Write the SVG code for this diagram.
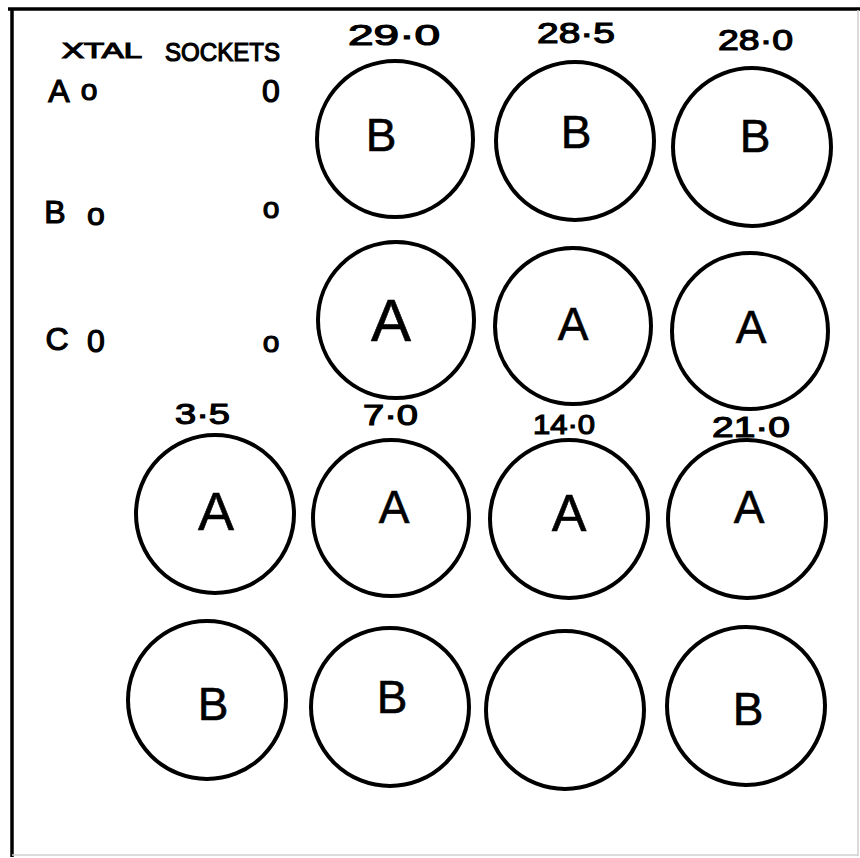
<svg xmlns="http://www.w3.org/2000/svg" width="860" height="858" viewBox="0 0 860 858">
<style>
.frame{stroke:#000;stroke-width:3.5;fill:none}
.faint{stroke:#cfcfcf;stroke-width:1.5;fill:none}
.sock{fill:#fff;stroke:#000;stroke-width:4}
.lt{font-family:"Liberation Sans",Arial,sans-serif;fill:#000;stroke:#000;stroke-width:1.2}
.c{text-anchor:middle}
.s{text-anchor:start}
.big{font-size:46px;stroke-width:0.6}
.num{font-size:30px}
.side{font-size:32px}
</style>
<rect width="860" height="858" fill="#fff"/>
<g id="frame">
<line class="frame" x1="8" y1="9" x2="860" y2="9"/>
<line class="frame" x1="12" y1="8" x2="12" y2="857"/>
<line class="faint" x1="858" y1="10" x2="858" y2="856"/>
<line class="faint" x1="12" y1="855" x2="858" y2="855"/>
</g>
<g id="legend">
<text class="lt s" x="62" y="58" font-size="22" textLength="80" lengthAdjust="spacingAndGlyphs">XTAL</text>
<text class="lt s" x="165" y="61" font-size="26" textLength="115" lengthAdjust="spacingAndGlyphs">SOCKETS</text>
<text class="lt c side" x="59" y="102">A</text>
<text class="lt c" x="89" y="100" font-size="30">o</text>
<text class="lt c side" x="271" y="102">0</text>
<text class="lt c side" x="55" y="223">B</text>
<text class="lt c side" x="96" y="225">o</text>
<text class="lt c" x="271" y="218" font-size="30">o</text>
<text class="lt c side" x="57" y="350">C</text>
<text class="lt c side" x="96" y="352">0</text>
<text class="lt c" x="271" y="352" font-size="30">o</text>
</g>
<g id="labels">
<text class="lt s num" x="348" y="45" textLength="92" lengthAdjust="spacingAndGlyphs">29·0</text>
<text class="lt s num" x="537" y="43" textLength="78" lengthAdjust="spacingAndGlyphs">28·5</text>
<text class="lt s num" x="718" y="50" textLength="75" lengthAdjust="spacingAndGlyphs">28·0</text>
<text class="lt s num" x="175" y="424" textLength="55" lengthAdjust="spacingAndGlyphs">3·5</text>
<text class="lt s num" x="363" y="425" textLength="55" lengthAdjust="spacingAndGlyphs">7·0</text>
<text class="lt s" x="533" y="434" font-size="27" textLength="62" lengthAdjust="spacingAndGlyphs">14·0</text>
<text class="lt s num" x="712" y="437" textLength="78" lengthAdjust="spacingAndGlyphs">21·0</text>
</g>
<g id="r1c1"><circle class="sock" cx="395" cy="139" r="78"/><text class="lt c big" x="381" y="151">B</text></g>
<g id="r1c2"><circle class="sock" cx="575" cy="141" r="79"/><text class="lt c big" x="576" y="148">B</text></g>
<g id="r1c3"><circle class="sock" cx="752" cy="147" r="79"/><text class="lt c big" x="755" y="152">B</text></g>
<g id="r2c1"><circle class="sock" cx="396" cy="320" r="78"/><text class="lt c big" x="391" y="341" style="font-size:60px">A</text></g>
<g id="r2c2"><circle class="sock" cx="573" cy="326" r="78"/><text class="lt c big" x="573" y="340">A</text></g>
<g id="r2c3"><circle class="sock" cx="750" cy="331" r="78"/><text class="lt c big" x="751" y="343">A</text></g>
<g id="r3c1"><circle class="sock" cx="215" cy="514" r="79"/><text class="lt c big" x="216" y="530" style="font-size:54px">A</text></g>
<g id="r3c2"><circle class="sock" cx="391" cy="518" r="78"/><text class="lt c big" x="394" y="523">A</text></g>
<g id="r3c3"><circle class="sock" cx="569" cy="519" r="79"/><text class="lt c big" x="569" y="531" style="font-size:52px">A</text></g>
<g id="r3c4"><circle class="sock" cx="747" cy="519" r="79"/><text class="lt c big" x="749" y="523">A</text></g>
<g id="r4c1"><circle class="sock" cx="207" cy="700" r="79"/><text class="lt c big" x="213" y="720">B</text></g>
<g id="r4c2"><circle class="sock" cx="390" cy="707" r="79"/><text class="lt c big" x="392" y="713">B</text></g>
<g id="r4c3"><circle class="sock" cx="565" cy="710" r="79"/></g>
<g id="r4c4"><circle class="sock" cx="746" cy="706" r="79"/><text class="lt c big" x="748" y="725">B</text></g>
<g id="connectors"/>
</svg>
